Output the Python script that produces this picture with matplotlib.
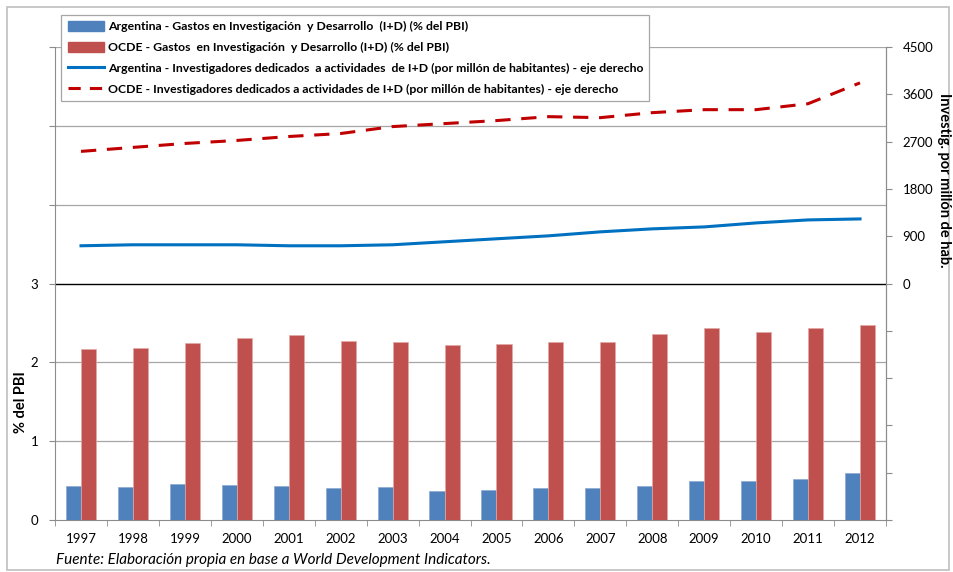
import numpy as np
import matplotlib
matplotlib.use("Agg")
import matplotlib.pyplot as plt
from matplotlib.patches import Patch, Rectangle
from matplotlib.lines import Line2D

plt.rcParams['font.family'] = ['Lato', 'DejaVu Sans']

anios = ['1997', '1998', '1999', '2000', '2001', '2002', '2003', '2004',
         '2005', '2006', '2007', '2008', '2009', '2010', '2011', '2012']
# gasto en I+D (% del PBI)
gasto_arg = [0.43, 0.42, 0.46, 0.44, 0.43, 0.40, 0.42, 0.37,
             0.38, 0.41, 0.41, 0.43, 0.49, 0.50, 0.52, 0.59]
gasto_ocde = [2.17, 2.18, 2.25, 2.31, 2.35, 2.27, 2.26, 2.22,
              2.23, 2.26, 2.26, 2.36, 2.44, 2.39, 2.43, 2.48]
# investigadores por millon de habitantes
invest_arg = [718, 737, 737, 737, 718, 718, 737, 794,
              851, 907, 983, 1040, 1077, 1153, 1210, 1229]
invest_ocde = [2514, 2590, 2665, 2722, 2797, 2854, 2986, 3043,
               3100, 3175, 3156, 3251, 3308, 3308, 3421, 3818]

lbl_bar_arg = 'Argentina - Gastos en Investigación  y Desarrollo  (I+D) (% del PBI)'
lbl_bar_ocde = 'OCDE - Gastos  en Investigación  y Desarrollo (I+D) (% del PBI)'
lbl_lin_arg = 'Argentina - Investigadores dedicados  a actividades  de I+D (por millón de habitantes) - eje derecho'
lbl_lin_ocde = 'OCDE - Investigadores dedicados a actividades de I+D (por millón de habitantes) - eje derecho'

azul = '#4F81BD'
rojo = '#C0504D'
gris = '#8C8C8C'

fig = plt.figure(figsize=(9.54, 5.72), dpi=100)
fig.patches.append(Rectangle((0.007, 0.004), 0.988, 0.983, transform=fig.transFigure,
                             fill=False, edgecolor='#BFBFBF', linewidth=1.2))
ax = fig.add_axes([0.0577, 0.0909, 0.8710, 0.8269])
x = np.arange(len(anios))
w = 0.29

ax.bar(x - w / 2, gasto_arg, w, color=azul, edgecolor='#8EA9D0', linewidth=0.5, zorder=3)
ax.bar(x + w / 2, gasto_ocde, w, color=rojo, edgecolor='#E3A9A7', linewidth=0.5, zorder=3)

ax.set_xlim(-0.5, len(anios) - 0.5)
ax.set_ylim(0, 6)
ax.set_yticks(range(7))
ax.set_yticklabels(['0', '1', '2', '3', '', '', ''])
for v in [1, 2, 4, 5, 6]:
    ax.axhline(v, color='#A6A6A6', linewidth=0.9, zorder=1)
ax.axhline(3, color='#000000', linewidth=1.0, zorder=2)

ax.set_xticks(x)
ax.set_xticklabels(anios)
ax.set_xticks(np.arange(-0.5, len(anios)), minor=True)
ax.tick_params(axis='x', which='major', length=0, pad=9, labelsize=9.5)
ax.tick_params(axis='x', which='minor', length=4, color=gris)
ax.tick_params(axis='y', length=4, color=gris, labelsize=9.5, pad=8)
for s in ['top']:
    ax.spines[s].set_visible(False)
for s in ['left', 'bottom', 'right']:
    ax.spines[s].set_color(gris)
ax.set_ylabel('% del PBI', fontweight='bold', fontsize=10.5)
ax.yaxis.set_label_coords(-0.033, 0.25)

ax2 = ax.twinx()
ax2.plot(x, invest_arg, color='#0070C0', linewidth=2.2, zorder=4)
ax2.plot(x, invest_ocde, color='#C00000', linewidth=2.2, dashes=(5, 3.5), zorder=4)
ax2.set_ylim(-4500, 4500)
ax2.set_yticks(range(-4500, 4501, 900))
ax2.set_yticklabels(['' if v < 0 else str(v) for v in range(-4500, 4501, 900)])
ax2.tick_params(axis='y', length=4, color=gris, labelsize=9.5, pad=8)
for s in ['top', 'left', 'bottom']:
    ax2.spines[s].set_visible(False)
ax2.spines['right'].set_color(gris)

# titulo del eje derecho
fig.text(0.9895, 0.685, 'Investig. por millón de hab.', fontweight='bold', fontsize=10.5,
         rotation=-90, ha='center', va='center')

handles = [Patch(facecolor=azul, edgecolor=azul),
           Patch(facecolor=rojo, edgecolor=rojo),
           Line2D([0], [0], color='#0070C0', linewidth=2.2),
           Line2D([0], [0], color='#C00000', linewidth=2.2, dashes=(4, 3))]
leg = fig.legend(handles, [lbl_bar_arg, lbl_bar_ocde, lbl_lin_arg, lbl_lin_ocde],
                 loc='upper left', bbox_to_anchor=(0.058, 0.985),
                 prop={'weight': 'bold', 'size': 8.8}, frameon=True, fancybox=False,
                 handlelength=3.0, handleheight=0.9, labelspacing=0.78,
                 borderpad=0.5, handletextpad=0.3, framealpha=1)
leg.get_frame().set_edgecolor('#A6A6A6')
leg.get_frame().set_linewidth(0.9)
leg.set_zorder(10)

fig.text(0.059, 0.014, 'Fuente: Elaboración propia en base a World Development Indicators.',
         fontstyle='italic', fontsize=11)

fig.savefig('out.png', dpi=100)
